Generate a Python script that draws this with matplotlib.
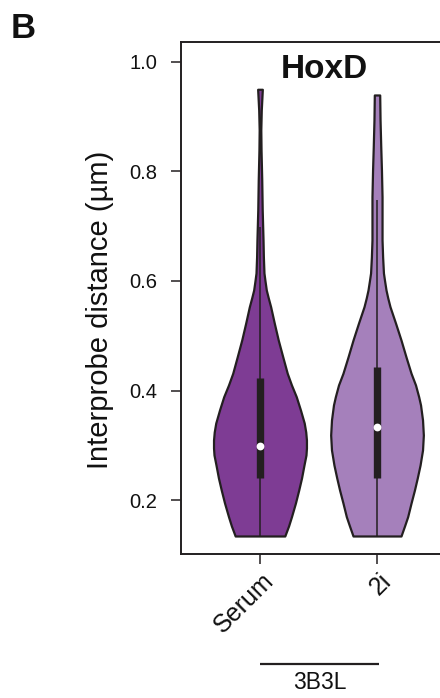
import matplotlib
matplotlib.use('Agg')
import matplotlib.pyplot as plt
from matplotlib.transforms import ScaledTranslation, blended_transform_factory

plt.rcParams['font.family'] = ['Liberation Sans', 'DejaVu Sans']

# ---------------- data ----------------
categories = ['Serum', '2i']
group_label = '3B3L'
panel_label = 'B'
title = 'HoxD'
ylabel = 'Interprobe distance (\u00b5m)'
yticks = [0.2, 0.4, 0.6, 0.8, 1.0]
ytick_labels = ['0.2', '0.4', '0.6', '0.8', '1.0']
fill_colors = ['#7e3c94', '#a580bb']

# violin density profiles (value, half-width in x-axis units)
serum_y = [0.1348, 0.1530, 0.1700, 0.1950, 0.2187, 0.2406, 0.2643, 0.2826,
           0.2953, 0.3099, 0.3245, 0.3409, 0.3646, 0.3889, 0.4103, 0.4316,
           0.4613, 0.4923, 0.5233, 0.5531, 0.5690, 0.5835, 0.6000, 0.6146,
           0.6437, 0.6748, 0.7295, 0.7842, 0.8389, 0.8754, 0.9119, 0.9497]
serum_hw = [0.212, 0.244, 0.269, 0.303, 0.331, 0.355, 0.376, 0.393,
            0.397, 0.397, 0.391, 0.378, 0.346, 0.310, 0.269, 0.233,
            0.195, 0.156, 0.122, 0.091, 0.071, 0.054, 0.043, 0.034,
            0.029, 0.026, 0.019, 0.015, 0.009, 0.007, 0.011, 0.020]
twoi_y = [0.1348, 0.1530, 0.1700, 0.1950, 0.2187, 0.2406, 0.2643, 0.2917,
          0.3190, 0.3464, 0.3738, 0.3889, 0.4103, 0.4316, 0.4613, 0.4923,
          0.5233, 0.5531, 0.5690, 0.5835, 0.6000, 0.6146, 0.6437, 0.6748,
          0.7112, 0.7537, 0.8024, 0.8449, 0.8937, 0.9393]
twoi_hw = [0.205, 0.235, 0.262, 0.291, 0.320, 0.344, 0.368, 0.389,
           0.396, 0.389, 0.372, 0.356, 0.329, 0.291, 0.248, 0.205,
           0.158, 0.111, 0.092, 0.077, 0.065, 0.055, 0.048, 0.043,
           0.043, 0.043, 0.038, 0.032, 0.026, 0.023]

# box statistics
data_min = [0.1348, 0.1348]
q1 = [0.240, 0.240]
median = [0.2995, 0.334]
q3 = [0.4236, 0.4436]
whisker_hi = [0.699, 0.748]

profiles_y = [serum_y, twoi_y]
profiles_hw = [serum_hw, twoi_hw]

# ---------------- figure ----------------
W, H = 440, 698
fig = plt.figure(figsize=(W / 100, H / 100), dpi=100)
ax_left, ax_right, ax_top, ax_bottom = 181, 456, 42.3, 554.3
ax = fig.add_axes([ax_left / W, 1 - ax_bottom / H,
                   (ax_right - ax_left) / W, (ax_bottom - ax_top) / H])
ax.set_xlim(0.325, 2.675)
ax.set_ylim(0.1014, 1.0354)

edge = '#231f20'
positions = list(range(1, len(categories) + 1))
for pos, py, phw, col in zip(positions, profiles_y, profiles_hw, fill_colors):
    left = [pos - h for h in phw]
    right = [pos + h for h in phw]
    ax.fill_betweenx(py, left, right, facecolor=col, edgecolor=edge,
                     linewidth=1.6, zorder=2, joinstyle='round')

ax.vlines(positions, data_min, whisker_hi, color=edge, linewidth=1.1, zorder=3)
ax.vlines(positions, q1, q3, color=edge, linewidth=5.3, zorder=4,
          capstyle='butt')
ax.plot(positions, median, 'o', color='white', markersize=5.6,
        markeredgewidth=0, zorder=5)

# spines & ticks
for s in ax.spines.values():
    s.set_linewidth(1.4)
    s.set_color(edge)

ax.set_yticks(yticks)
ax.set_yticklabels(ytick_labels)
ax.tick_params(axis='y', length=7.5, width=1.1, pad=9.5, labelsize=14.5,
               color=edge, labelcolor='#111111')
ax.set_xticks(positions)
ax.set_xticklabels(categories, rotation=45, ha='right', va='top',
                   rotation_mode='anchor')
ax.tick_params(axis='x', length=7.5, width=1.1, pad=3, labelsize=18,
               color=edge, labelcolor='#111111')
for lab in ax.get_xticklabels():
    lab.set_transform(lab.get_transform() +
                      ScaledTranslation(2 / 100, 0, fig.dpi_scale_trans))

# title inside axes
ax.text(1.55, 0.970, title, ha='center', va='baseline', fontsize=24,
        fontweight='bold', color='#111111')

# y label
fig.text(108 / W, 1 - 310 / H, ylabel, rotation=90, rotation_mode='anchor',
         ha='center', va='baseline', fontsize=21, color='#111111')

# panel label
fig.text(10.5 / W, 1 - 38.3 / H, panel_label, ha='left', va='baseline',
         fontsize=25, fontweight='bold', color='#111111')

# group bracket
trans = blended_transform_factory(ax.transData, fig.transFigure)
ax.plot([positions[0], positions[-1] + 0.02], [1 - 664 / H, 1 - 664 / H],
        transform=trans, color=edge, linewidth=1.6, clip_on=False,
        solid_capstyle='butt')
ax.text((positions[0] + positions[-1]) / 2 + 0.015, 1 - 689.3 / H, group_label,
        transform=trans, ha='center', va='baseline', fontsize=16.5,
        color='#111111')

fig.savefig('out.png', dpi=100)
